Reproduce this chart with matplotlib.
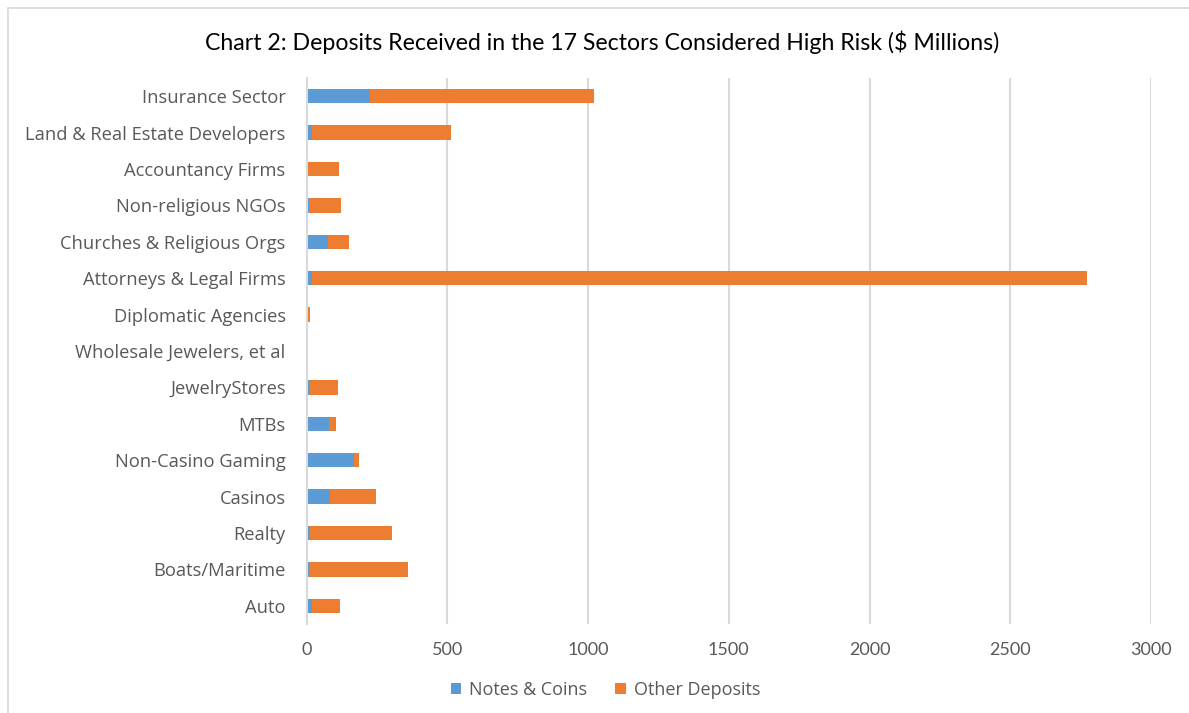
import matplotlib.pyplot as plt
from matplotlib.patches import Rectangle

sectors = [
    "Auto", "Boats/Maritime", "Realty", "Casinos", "Non-Casino Gaming", "MTBs",
    "JewelryStores", "Wholesale Jewelers, et al", "Diplomatic Agencies",
    "Attorneys & Legal Firms", "Churches & Religious Orgs", "Non-religious NGOs",
    "Accountancy Firms", "Land & Real Estate Developers", "Insurance Sector",
]
notes_coins = [19, 9, 14, 83, 170, 80, 14, 0, 2, 18, 75, 9, 5, 20, 225]
other_deposits = [100, 352, 288, 164, 16, 25, 98, 0, 12, 2755, 77, 113, 110, 492, 797]
x_ticks = [0, 500, 1000, 1500, 2000, 2500, 3000]

blue = "#5B9BD5"
orange = "#ED7D31"
grey_text = "#595959"

fig = plt.figure(figsize=(11.89, 7.13), dpi=100)
fig.patches.append(Rectangle((8 / 1189, -0.1), 1.2, 1 - 8 / 713 + 0.1,
                             transform=fig.transFigure, fill=False,
                             edgecolor="#D9D9D9", linewidth=1.2))

ax = fig.add_axes([306.5 / 1189, 1 - 624 / 713, (1151 - 306.5) / 1189, (624 - 78) / 713])

ypos = range(len(sectors))
ax.barh(ypos, notes_coins, height=0.4, color=blue, label="Notes & Coins", zorder=3)
ax.barh(ypos, other_deposits, left=notes_coins, height=0.4, color=orange,
        label="Other Deposits", zorder=3)

ax.set_xlim(0, 3000)
ax.set_ylim(-0.5, len(sectors) - 0.5)
ax.set_xticks(x_ticks)
ax.set_yticks(list(ypos))
ax.set_yticklabels(sectors, fontsize=13.2, color=grey_text, family="Open Sans")
for lbl in ax.get_xticklabels():
    lbl.set_family("Lato")
ax.tick_params(axis="x", labelsize=13, labelcolor=grey_text, length=0, pad=13)
ax.tick_params(axis="y", length=0, pad=15)
ax.grid(axis="x", color="#D9D9D9", linewidth=1.5, zorder=0)

for side in ["top", "right", "bottom"]:
    ax.spines[side].set_visible(False)
ax.spines["left"].set_color("#D9D9D9")
ax.spines["left"].set_linewidth(1.5)
ax.spines["left"].set_zorder(4)

fig.text(0.506, 1 - 42 / 713, "Chart 2: Deposits Received in the 17 Sectors Considered High Risk ($ Millions)",
         ha="center", va="center", fontsize=16.7, family="Lato", color="#000000")

fig.legend(loc="center", bbox_to_anchor=(0.509, 1 - 690 / 713), ncol=2, frameon=False,
           prop={"family": "Open Sans", "size": 13}, labelcolor=grey_text,
           handlelength=0.6, handleheight=0.6, handletextpad=0.4, columnspacing=1.6)

plt.savefig("out.png", dpi=100)
